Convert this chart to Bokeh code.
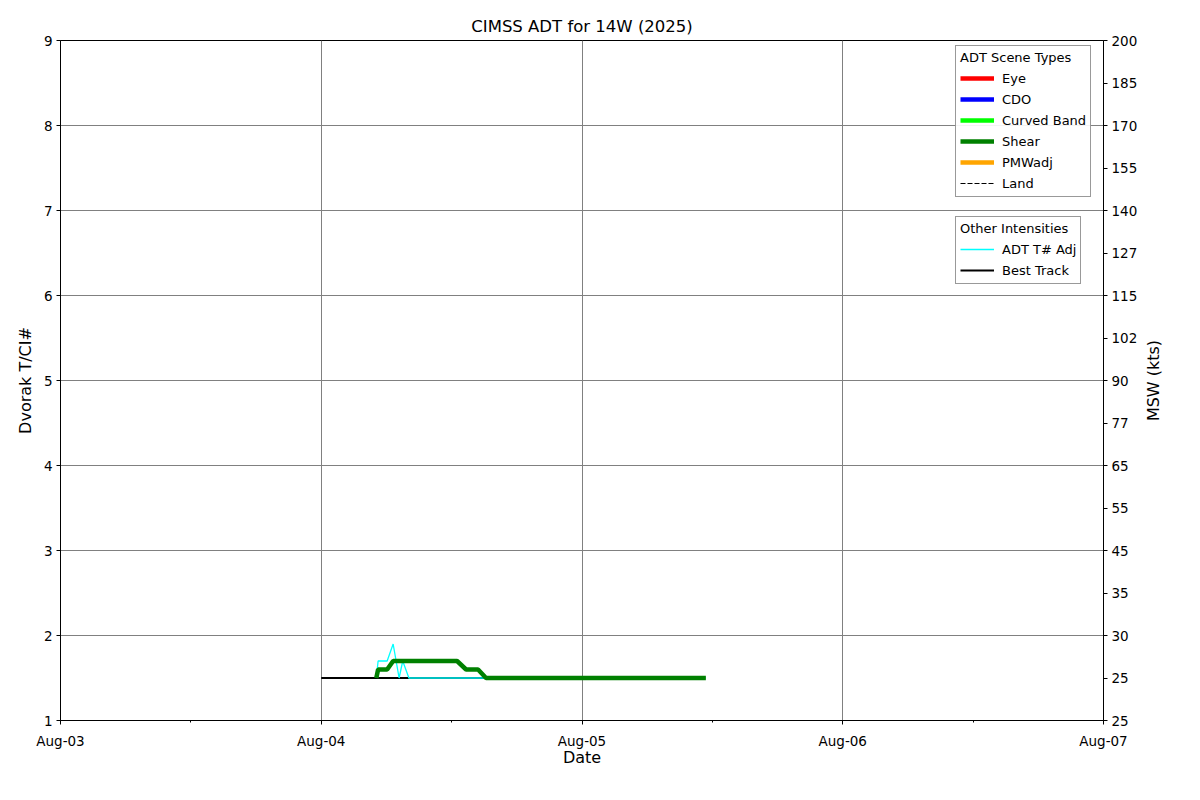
import pandas as pd
from bokeh.plotting import figure
from bokeh.layouts import row
from bokeh.models import (FixedTicker, DatetimeTickFormatter, LinearAxis, Legend,
                          LegendItem, ColumnDataSource, Range1d)
from bokeh.embed import file_html
from bokeh.resources import INLINE

# ---------------- data ----------------
shear_times = ["2025-08-04 05:04", "2025-08-04 05:14", "2025-08-04 06:04", "2025-08-04 06:37",
               "2025-08-04 12:30", "2025-08-04 13:20", "2025-08-04 14:26", "2025-08-04 15:10",
               "2025-08-05 11:24"]
shear_vals = [1.5, 1.6, 1.6, 1.7, 1.7, 1.6, 1.6, 1.5, 1.5]

adj_times = ["2025-08-04 05:04", "2025-08-04 05:14", "2025-08-04 06:04", "2025-08-04 06:37",
             "2025-08-04 07:10", "2025-08-04 07:30", "2025-08-04 08:04", "2025-08-05 11:24"]
adj_vals = [1.5, 1.7, 1.7, 1.9, 1.5, 1.7, 1.5, 1.5]

bt_times = ["2025-08-04 00:00", "2025-08-04 06:00", "2025-08-04 12:00", "2025-08-04 18:00"]
bt_vals = [1.5, 1.5, 1.5, 1.5]

x_ticks = ["2025-08-03", "2025-08-04", "2025-08-05", "2025-08-06", "2025-08-07"]
x_minor = ["2025-08-03 12:00", "2025-08-04 12:00", "2025-08-05 12:00", "2025-08-06 12:00"]
left_ticks = [1, 2, 3, 4, 5, 6, 7, 8, 9]
right_ticks = [1, 1.5, 2, 2.5, 3, 3.5, 4, 4.5, 5, 5.5, 6, 6.5, 7, 7.5, 8, 8.5, 9]
right_labels = ["25", "25", "30", "35", "45", "55", "65", "77", "90", "102", "115",
                "127", "140", "155", "170", "185", "200"]
right_title = "MSW (kts)"

scene_names = ["Eye", "CDO", "Curved Band", "Shear", "PMWadj", "Land"]
scene_colors = ["#ff0000", "#0000ff", "#00ff00", "#008000", "#ffa500", "#000000"]

FONT = "DejaVu Sans"
nan = float("nan")


def ms(t):
    return pd.Timestamp(t).value / 1e6


yr = Range1d(1, 9)
p = figure(width=1140, height=784, x_axis_type="datetime",
           x_range=Range1d(ms(x_ticks[0]), ms(x_ticks[-1])),
           y_range=yr,
           output_backend="svg", toolbar_location=None,
           min_border_left=60, min_border_right=36, min_border_top=40, min_border_bottom=64)

p.title.text = "CIMSS ADT for 14W (2025)"
p.title.align = "center"
p.title.text_font = FONT
p.title.text_font_size = "16.5px"
p.title.text_font_style = "normal"
p.title.text_color = "black"
p.title.offset = 0

p.outline_line_color = "black"
p.outline_line_width = 1
p.outline_line_alpha = 1

# x axis
xa = p.xaxis[0]
xa.ticker = FixedTicker(ticks=[ms(t) for t in x_ticks], minor_ticks=[ms(t) for t in x_minor])
fmt = "%b-%d"
xa.formatter = DatetimeTickFormatter(days=fmt, months=fmt, hours=fmt, years=fmt,
                                     hourmin=fmt, minutes=fmt)
xa.axis_label = "Date"

# left y axis
ya = p.yaxis[0]
ya.ticker = FixedTicker(ticks=left_ticks)
ya.axis_label = "Dvorak T/CI#"

# right y axis (ticks only; its title is drawn by the side strip below)
ra = LinearAxis(ticker=FixedTicker(ticks=right_ticks),
                major_label_overrides={t: l for t, l in zip(right_ticks, right_labels)})
p.add_layout(ra, "right")

for ax in [xa, ya, ra]:
    ax.axis_line_color = "black"
    ax.major_tick_line_color = "black"
    ax.minor_tick_line_color = "black"
    ax.major_tick_out = 4
    ax.major_tick_in = 0
    ax.minor_tick_out = 2
    ax.minor_tick_in = 0
    ax.major_label_text_font = FONT
    ax.major_label_text_font_size = "13.5px"
    ax.major_label_text_color = "black"
    ax.axis_label_text_font = FONT
    ax.axis_label_text_font_size = "16px"
    ax.axis_label_text_font_style = "normal"
    ax.axis_label_text_color = "black"
    ax.major_label_standoff = 4
xa.major_label_standoff = 8
xa.axis_label_standoff = -4
ya.axis_label_standoff = 6
ya.minor_tick_out = 0
ra.minor_tick_out = 0

p.xgrid.ticker = xa.ticker
p.ygrid.ticker = FixedTicker(ticks=left_ticks)
for g in [p.xgrid[0], p.ygrid[0]]:
    g.grid_line_color = "#808080"
    g.grid_line_width = 1
    g.grid_line_alpha = 1

# ---------------- data lines ----------------
bt_src = ColumnDataSource(dict(t=[pd.Timestamp(t) for t in bt_times], v=bt_vals))
adj_src = ColumnDataSource(dict(t=[pd.Timestamp(t) for t in adj_times], v=adj_vals))
shear_src = ColumnDataSource(dict(t=[pd.Timestamp(t) for t in shear_times], v=shear_vals))

r_bt = p.line("t", "v", source=bt_src, line_color="black", line_width=2)
r_adj = p.line("t", "v", source=adj_src, line_color="#00ffff", line_width=1.3)

scene_renderers = []
for name, col in zip(scene_names, scene_colors):
    if name == "Shear":
        r = p.line("t", "v", source=shear_src, line_color=col, line_width=4.5)
    elif name == "Land":
        r = p.line(x=[nan], y=[nan], line_color=col, line_width=1, line_dash="5 2")
    else:
        r = p.line(x=[nan], y=[nan], line_color=col, line_width=4.5)
    scene_renderers.append(r)


def style_legend(lg):
    lg.title_text_font = FONT
    lg.title_text_font_size = "13px"
    lg.title_text_font_style = "normal"
    lg.title_text_color = "black"
    lg.title_standoff = 4
    lg.label_text_font = FONT
    lg.label_text_font_size = "13px"
    lg.label_text_color = "black"
    lg.label_height = 18
    lg.glyph_height = 18
    lg.glyph_width = 34
    lg.label_standoff = 8
    lg.spacing = 3
    lg.padding = 4
    lg.margin = 0
    lg.border_line_color = "#333333"
    lg.border_line_width = 1
    lg.background_fill_alpha = 0.9


leg1 = Legend(items=[LegendItem(label=n, renderers=[r]) for n, r in zip(scene_names, scene_renderers)],
              title="ADT Scene Types", location=(895, 523))
leg2 = Legend(items=[LegendItem(label="ADT T# Adj", renderers=[r_adj]),
                     LegendItem(label="Best Track", renderers=[r_bt])],
              title="Other Intensities", location=(895, 436))
style_legend(leg1)
style_legend(leg2)
p.add_layout(leg1)
p.add_layout(leg2)

# ---------------- side strip carrying the right-hand axis title ----------------
p2 = figure(width=44, height=784, x_range=Range1d(0, 1), y_range=yr,
            output_backend="svg", toolbar_location=None,
            min_border_left=24, min_border_right=0, min_border_top=40, min_border_bottom=64)
p2.line(x=[nan], y=[nan])
p2.outline_line_color = None
p2.grid.visible = False
p2.xaxis.visible = False
a2 = p2.yaxis[0]
a2.ticker = FixedTicker(ticks=[])
a2.axis_line_color = None
a2.major_tick_out = 0
a2.major_tick_in = 0
a2.minor_tick_out = 0
a2.minor_tick_in = 0
a2.major_label_text_font_size = "0px"
a2.axis_label = right_title
a2.axis_label_text_font = FONT
a2.axis_label_text_font_size = "16px"
a2.axis_label_text_font_style = "normal"
a2.axis_label_text_color = "black"
a2.axis_label_standoff = 2

open("out.html", "w").write(file_html(row(p, p2), INLINE))
